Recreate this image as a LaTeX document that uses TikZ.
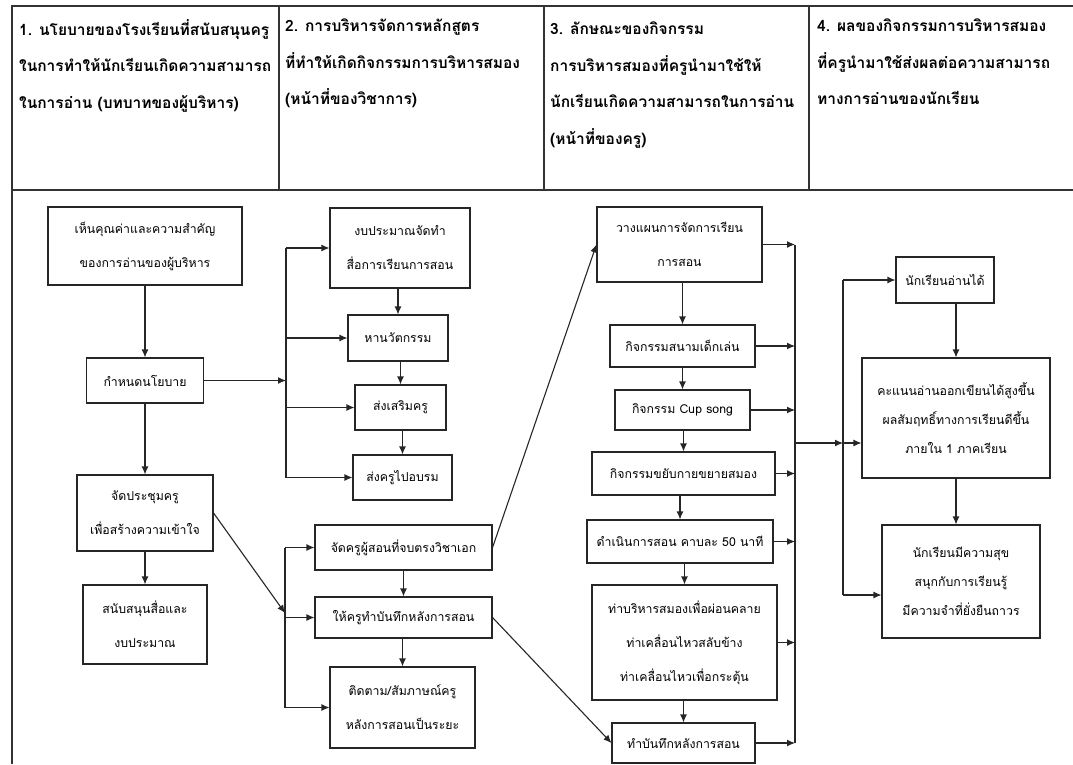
\documentclass[tikz,border=0pt]{standalone}
\usepackage{fontspec}
\newfontfamily\thaifont[Script=Thai]{Loma}
\usetikzlibrary{positioning, arrows.meta, calc}

\begin{document}
\begin{tikzpicture}[x=1pt, y=-1pt,
    box/.style={rectangle, draw=black!85, line width=1.1pt, align=center, inner sep=0pt, font=\thaifont\fontsize{12.3}{34}\selectfont},
    tight/.style={font=\thaifont\fontsize{12.3}{29}\selectfont},
    sz/.style 2 args={minimum width=#1, minimum height=#2},
    head/.style={anchor=north west, align=left, inner sep=0pt, font=\thaifont\bfseries\fontsize{15.5}{36.5}\selectfont},
    arrow/.style={-{Latex[length=8pt, width=7pt]}, line width=1.1pt, draw=black!85},
    line/.style={line width=1.1pt, draw=black!85},
    grid/.style={line width=1.6pt, draw=black!80}
]
\useasboundingbox (0,0) rectangle (1073,764);

% Table
\draw[grid] (12,764) |- (1073,6);
\draw[grid] (12,190) -- (1073,190);
\draw[grid] (279,6) -- (279,190);
\draw[grid] (544,6) -- (544,190);
\draw[grid] (809,6) -- (809,190);

% Column headings
\node[head] (h1) at (19,19) {1. นโยบายของโรงเรียนที่สนับสนุนครู\\ในการทำให้นักเรียนเกิดความสามารถ\\ในการอ่าน (บทบาทของผู้บริหาร)};
\node[head] (h2) at (285,19) {2. การบริหารจัดการหลักสูตร\\ที่ทำให้เกิดกิจกรรมการบริหารสมอง\\(หน้าที่ของวิชาการ)};
\node[head] (h3) at (550,22) {3. ลักษณะของกิจกรรม\\การบริหารสมองที่ครูนำมาใช้ให้\\นักเรียนเกิดความสามารถในการอ่าน\\(หน้าที่ของครู)};
\node[head] (h4) at (817,19) {4. ผลของกิจกรรมการบริหารสมอง\\ที่ครูนำมาใช้ส่งผลต่อความสามารถ\\ทางการอ่านของนักเรียน};

% Column 1: administrators
\node[box, sz={194pt}{78pt}] (a1) at (145,246) {เห็นคุณค่าและความสำคัญ\\ของการอ่านของผู้บริหาร};
\node[box, sz={117pt}{45pt}] (a2) at (145,380.5) {กำหนดนโยบาย};
\node[box, sz={136pt}{76pt}] (a3) at (145,513) {จัดประชุมครู\\เพื่อสร้างความเข้าใจ};
\node[box, sz={124pt}{79pt}] (a4) at (145,624.5) {สนับสนุนสื่อและ\\งบประมาณ};

\draw[arrow] (a1) -- (a2);
\draw[arrow] (a2) -- (a3);
\draw[arrow] (a3) -- (a4);

% Column 2: academic affairs
\node[box, sz={140pt}{80pt}] (b1) at (400,248) {งบประมาณจัดทำ\\สื่อการเรียนการสอน};
\node[box, sz={100pt}{46pt}] (b2) at (398,338) {หานวัตกรรม};
\node[box, sz={91pt}{45pt}] (b3) at (400.5,407.5) {ส่งเสริมครู};
\node[box, sz={99pt}{45pt}] (b4) at (402.5,477.5) {ส่งครูไปอบรม};
\node[box, sz={177pt}{45pt}] (b5) at (403.5,547.5) {จัดครูผู้สอนที่จบตรงวิชาเอก};
\node[box, sz={177pt}{41pt}] (b6) at (403.5,617.5) {ให้ครูทำบันทึกหลังการสอน};
\node[box, sz={145pt}{81pt}] (b7) at (402.5,707.5) {ติดตาม/สัมภาษณ์ครู\\หลังการสอนเป็นระยะ};

\foreach \u/\v in {b1/b2, b2/b3, b3/b4, b5/b6, b6/b7}
    \draw[arrow] (\v.north |- \u.south) -- (\v.north);

\coordinate (k1) at (286,0);
\coordinate (k2) at (285,0);
\coordinate (k2m) at (285,613);
\draw[line] (k1 |- b1.west) -- (k1 |- b4.west);
\draw[arrow] (a2.east) -- (k1 |- a2.east);
\foreach \v in {b1, b2, b3, b4}
    \draw[arrow] (k1 |- \v.west) -- (\v.west);

\draw[line] (k2 |- b5.west) -- (k2 |- b7.west);
\draw[arrow] (a3.east) -- (k2m);
\foreach \v in {b5, b6, b7}
    \draw[arrow] (k2 |- \v.west) -- (\v.west);

% Column 3: teachers
\node[box, sz={165pt}{75pt}] (c1) at (679.5,244.5) {วางแผนการจัดการเรียน\\การสอน};
\node[box, sz={145pt}{42pt}] (c2) at (682.5,346) {กิจกรรมสนามเด็กเล่น};
\node[box, sz={135pt}{40pt}] (c3) at (682.5,410) {กิจกรรม Cup song};
\node[box, sz={183pt}{43pt}] (c4) at (683.5,473.5) {กิจกรรมขยับกายขยายสมอง};
\node[box, sz={186pt}{43pt}] (c5) at (680,541.5) {ดำเนินการสอน คาบละ 50 นาที};
\node[box, sz={185pt}{115pt}] (c6) at (684.5,642.5) {ท่าบริหารสมองเพื่อผ่อนคลาย\\ท่าเคลื่อนไหวสลับข้าง\\ท่าเคลื่อนไหวเพื่อกระตุ้น};
\node[box, sz={143pt}{40pt}] (c7) at (683.5,743) {ทำบันทึกหลังการสอน};

\draw[arrow] (b5.east) -- (c1.west);
\draw[arrow] (b6.east) -- (c7.west);

\foreach \u/\v in {c1/c2, c2/c3, c3/c4, c4/c5, c5/c6, c6/c7}
    \draw[arrow] (\v.north |- \u.south) -- (\v.north);

\coordinate (k3) at (795,0);
\draw[line] (k3 |- c1.east) -- (k3 |- c7.east);
\foreach \v in {c1, c2, c3, c4, c5, c6, c7}
    \draw[arrow] (\v.east) -- (k3 |- \v.east);

% Column 4: results
\node[box, sz={98pt}{46pt}] (d1) at (945,280) {นักเรียนอ่านได้};
\node[box, tight, sz={188pt}{120pt}] (d2) at (956,418) {คะแนนอ่านออกเขียนได้สูงขึ้น\\ผลสัมฤทธิ์ทางการเรียนดีขึ้น\\ภายใน 1 ภาคเรียน};
\node[box, tight, sz={158pt}{113pt}] (d3) at (961,581.5) {นักเรียนมีความสุข\\สนุกกับการเรียนรู้\\มีความจำที่ยั่งยืนถาวร};

\draw[arrow] (d2.north |- d1.south) -- (d2.north);
\draw[arrow] (d2.south) -- (d2.south |- d3.north);

\coordinate (j1) at (795,443);
\coordinate (k4) at (843,443);
\coordinate (k4b) at (843,595);
\draw[arrow] (j1) -- (k4);
\draw[arrow] (k4) -- (d2.west |- k4);
\draw[line] (k4 |- d1.west) -- (k4b);
\draw[arrow] (k4 |- d1.west) -- (d1.west);
\draw[arrow] (k4b) -- (d3.west |- k4b);

\end{tikzpicture}
\end{document}
